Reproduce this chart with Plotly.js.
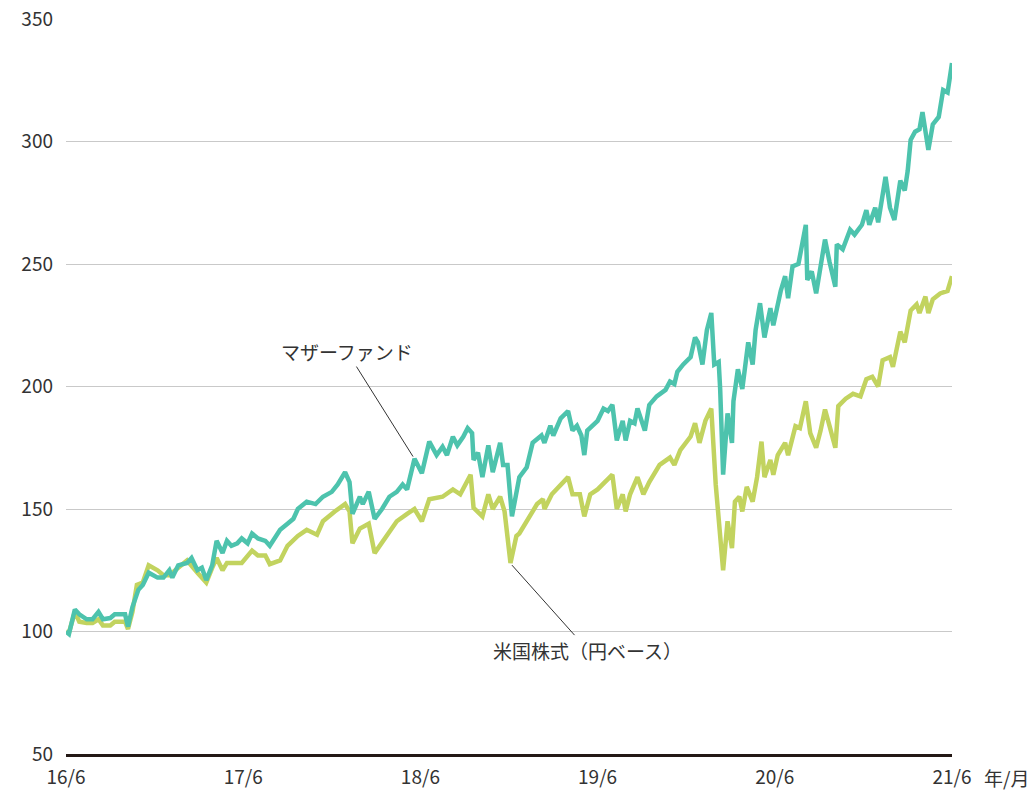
<!DOCTYPE html>
<html>
<head>
<meta charset="utf-8">
<script src="https://cdn.plot.ly/plotly-3.0.1.min.js"></script>
<style>
  html, body { margin: 0; padding: 0; background: #fff; }
  #chart { width: 1034px; height: 792px; }
</style>
</head>
<body>
<div id="chart"></div>
<script>
// x = months since 2016/6
var fundX = [0, 0.2, 0.6, 0.9, 1.4, 1.8, 2.2, 2.5, 3.0, 3.3, 3.7, 4.0, 4.2, 4.5, 4.9, 5.2, 5.6, 6.2, 6.6, 7.0,
  7.2, 7.6, 8.2, 8.5, 8.9, 9.2, 9.5, 9.9, 10.2, 10.6, 10.9, 11.2, 11.6, 11.9, 12.3, 12.6, 13.0, 13.5, 13.8, 14.2,
  14.5, 15.0, 15.4, 15.7, 16.3, 16.9, 17.4, 18.0, 18.4, 18.9, 19.2, 19.4, 19.9, 20.1, 20.5, 20.9, 21.4, 21.9, 22.4, 22.8,
  23.1, 23.6, 24.1, 24.6, 25.1, 25.5, 25.8, 26.2, 26.5, 26.9, 27.2, 27.5, 27.6, 27.9, 28.2, 28.6, 28.9, 29.4, 29.6, 29.9,
  30.2, 30.7, 31.2, 31.6, 32.2, 32.4, 32.8, 33.0, 33.5, 34.0, 34.3, 34.6, 34.9, 35.1, 35.3, 36.0, 36.4, 36.7, 37.0, 37.3,
  37.7, 37.9, 38.2, 38.5, 38.7, 39.2, 39.5, 40.0, 40.6, 40.9, 41.2, 41.4, 41.8, 42.3, 42.6, 42.8, 43.1, 43.4, 43.7, 43.9,
  44.2, 44.3, 44.5, 44.8, 45.1, 45.2, 45.5, 45.8, 46.2, 46.5, 46.7, 47.0, 47.3, 47.7, 47.9, 48.4, 48.7, 48.9, 49.2, 49.6,
  49.9, 50.1, 50.2, 50.5, 50.8, 51.1, 51.4, 51.7, 52.1, 52.2, 52.6, 53.1, 53.4, 53.9, 54.2, 54.4, 54.8, 55.0, 55.3, 55.5,
  55.8, 56.1, 56.5, 56.8, 57.0, 57.2, 57.5, 57.8, 58.0, 58.4, 58.7, 59.1, 59.4, 59.7, 60.0];
var fundY = [100, 99, 109, 107, 105, 105, 108, 105, 105.5, 107, 107, 107, 102, 110, 117, 119, 124, 122, 122, 125,
  122, 127, 128, 130, 125, 126, 121, 127, 137, 132, 137, 135, 136, 138, 136, 140, 138, 137, 135, 139,
  141.5, 144, 146, 150, 153, 152, 155, 157, 160, 165, 161, 148, 155, 152, 157, 146, 150, 155, 157, 160,
  158, 170.5, 164.6, 177.5, 172, 175.4, 172, 179.5, 176, 179.5, 183, 181, 170, 173, 163, 176, 165, 177, 168, 168,
  147, 163, 167, 177, 180, 177, 184, 180, 187, 190, 182, 184, 180, 172, 182, 186, 191, 190, 192.5, 178,
  186, 178, 186, 185, 191, 182, 192.5, 196, 198.6, 202, 201, 206, 209, 212, 220, 218, 209, 223, 230, 209,
  210, 199, 164, 189, 177, 194, 207, 199, 218, 209, 223, 234, 220, 232, 225, 239, 245, 236, 249, 250,
  258.6, 266, 243.5, 247, 238, 250, 260, 251, 240.7, 258, 256, 264, 262, 266, 272, 266, 273, 267, 279, 285.6,
  273, 268, 284, 280, 288, 300.6, 304, 305, 312, 296.6, 307, 310, 321, 320, 332];

var indexX = [0, 0.2, 0.6, 0.9, 1.4, 1.8, 2.2, 2.5, 3.0, 3.3, 3.7, 4.0, 4.2, 4.5, 4.8, 5.2, 5.6, 6.2, 6.6, 7.0,
  7.6, 8.2, 8.9, 9.5, 9.9, 10.2, 10.6, 10.9, 11.6, 11.9, 12.6, 13.0, 13.5, 13.8, 14.5, 15.0, 15.7, 16.3, 17.0, 17.4,
  18.2, 18.9, 19.2, 19.4, 19.9, 20.5, 20.9, 21.5, 22.4, 23.1, 23.6, 24.1, 24.6, 25.5, 26.2, 26.7, 27.4, 27.6, 28.2, 28.6,
  28.9, 29.4, 29.7, 30.1, 30.5, 30.7, 31.2, 31.9, 32.3, 32.4, 32.9, 33.5, 34.0, 34.3, 34.8, 35.1, 35.5, 36.0, 36.6, 37.0,
  37.3, 37.7, 37.9, 38.2, 38.7, 39.1, 39.5, 40.2, 40.9, 41.2, 41.6, 42.3, 42.6, 42.9, 43.3, 43.7, 44.0, 44.2, 44.5, 44.8,
  45.1, 45.3, 45.6, 45.8, 46.1, 46.5, 46.8, 47.1, 47.3, 47.7, 47.9, 48.2, 48.7, 48.9, 49.4, 49.7, 50.1, 50.4, 50.8, 51.1,
  51.4, 51.7, 52.1, 52.3, 52.8, 53.3, 53.8, 54.2, 54.6, 55.0, 55.3, 55.8, 56.0, 56.5, 56.8, 57.2, 57.6, 57.8, 58.2, 58.4,
  58.7, 59.2, 59.7, 60.0];
var indexY = [100, 99.5, 108, 104, 103.5, 103.5, 105, 102.5, 102.5, 104, 104, 104, 101, 108, 119, 120, 127, 125, 123, 123,
  126, 129, 124, 120, 126, 130, 125, 128, 128, 128, 133, 131, 131, 127.5, 129, 135, 139, 141.5, 139.5, 145,
  149, 152, 149, 136, 142, 144, 132, 137, 145, 148, 150, 145, 154, 155, 158, 156, 164, 150.5, 147, 156,
  150, 155, 149, 128, 139, 140, 145, 152, 154, 150, 156, 160, 163, 156, 156, 147, 156, 158, 162, 164,
  150, 156, 149, 156, 163, 156, 161, 168, 171, 168, 174, 179.6, 185, 177, 186, 191, 160, 144, 125, 145,
  134, 153, 155, 149, 159, 153, 163, 177.5, 163, 170, 164, 172, 177, 172, 183.8, 183, 194, 181, 175, 182,
  190.6, 184, 175, 192, 195, 197, 196, 203, 204, 200, 210.7, 212, 208, 222.4, 218, 231, 233.5, 230, 236.7, 230,
  235.6, 238, 239, 245];

var tickVals = [0, 12, 24, 36, 48, 60];
var tickText = ['16/6', '17/6', '18/6', '19/6', '20/6', '21/6'];

var font = '"Noto Sans CJK JP", "Noto Sans", sans-serif';

var traces = [
  {
    x: indexX, y: indexY, type: 'scatter', mode: 'lines', name: '米国株式（円ベース）',
    line: {color: '#c2d35f', width: 4.5}
  },
  {
    x: fundX, y: fundY, type: 'scatter', mode: 'lines', name: 'マザーファンド',
    line: {color: '#4dc3ad', width: 4.5}
  }
];

var layout = {
  width: 1034,
  height: 792,
  margin: {l: 66, r: 82, t: 19, b: 38},
  paper_bgcolor: '#fff',
  plot_bgcolor: '#fff',
  showlegend: false,
  font: {family: font, size: 19, color: '#333'},
  xaxis: {
    range: [0, 60],
    tickvals: tickVals,
    ticktext: tickText,
    showgrid: false,
    zeroline: false,
    showline: true,
    linecolor: '#231815',
    linewidth: 2.5,
    ticks: '',
    ticklabelstandoff: 5,
    automargin: false
  },
  yaxis: {
    range: [50, 350],
    dtick: 50,
    showgrid: true,
    gridcolor: '#c9c9c9',
    gridwidth: 1,
    zeroline: false,
    ticks: '',
    ticklabelstandoff: 12,
    automargin: false
  },
  annotations: [
    {
      x: 23.5, y: 171.4, xref: 'x', yref: 'y',
      text: 'マザーファンド', showarrow: true, arrowhead: 0, arrowwidth: 1, arrowcolor: '#333',
      ax: -66, ay: -105, font: {family: font, size: 19, color: '#333'}
    },
    {
      x: 30.2, y: 127.1, xref: 'x', yref: 'y',
      text: '米国株式（円ベース）', showarrow: true, arrowhead: 0, arrowwidth: 1, arrowcolor: '#333',
      ax: 76, ay: 85, font: {family: font, size: 19, color: '#333'}
    },
    {
      x: 1.034, y: 0, xref: 'paper', yref: 'paper', xanchor: 'left', yanchor: 'top',
      yshift: -8, text: '年/月', showarrow: false, font: {family: font, size: 19, color: '#333'}
    }
  ]
};

Plotly.newPlot('chart', traces, layout, {displayModeBar: false, staticPlot: true});
</script>
</body>
</html>
